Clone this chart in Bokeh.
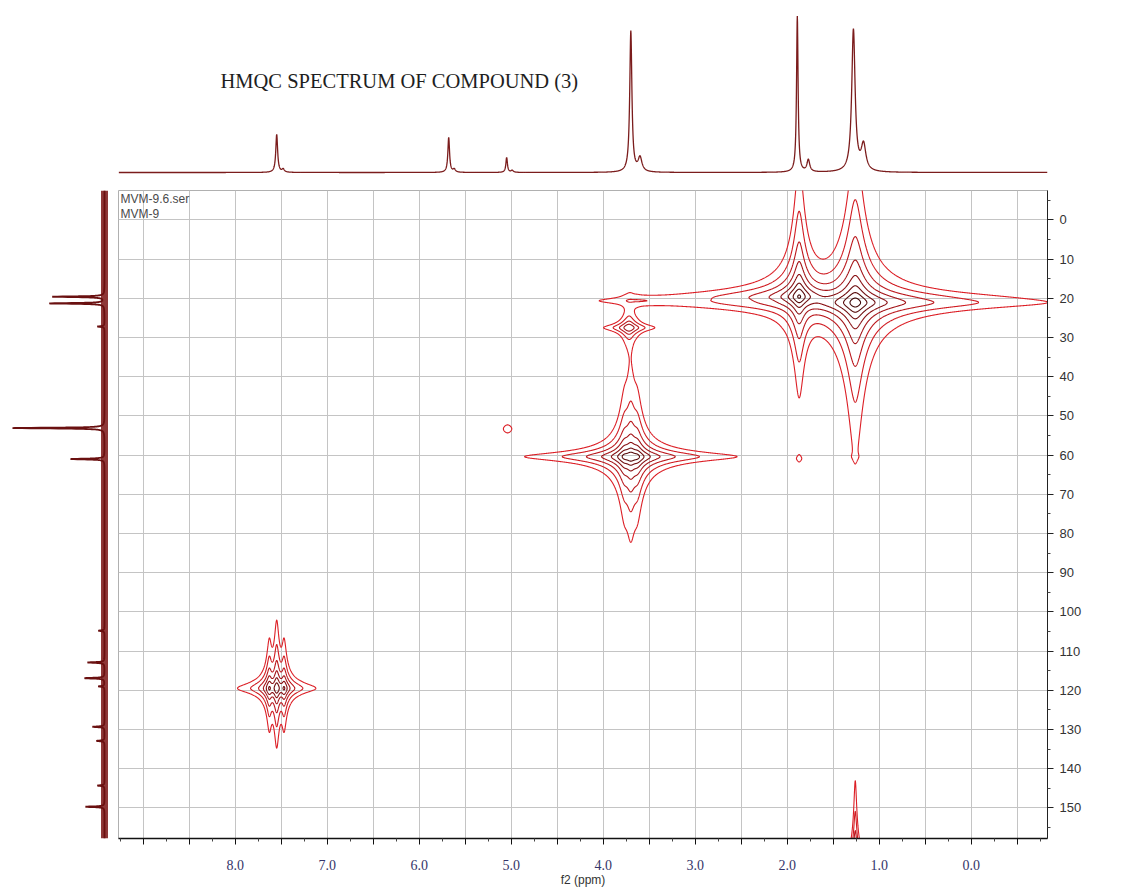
import numpy as np
from bokeh.plotting import figure
from bokeh.layouts import column, row
from bokeh.models import Range1d, FixedTicker, Label
from bokeh.embed import file_html
from bokeh.resources import INLINE

# ---------------- axes ----------------
f2_left, f2_right = 9.27, -0.83          # 1H (ppm), reversed
f1_top, f1_bottom = -7.5, 157.8          # 13C (ppm), reversed

f2_major = [9.0, 8.5, 8.0, 7.5, 7.0, 6.5, 6.0, 5.5, 5.0, 4.5, 4.0, 3.5, 3.0, 2.5, 2.0, 1.5, 1.0, 0.5, 0.0, -0.5]
f2_labels = ["", "", "8.0", "", "7.0", "", "6.0", "", "5.0", "", "4.0", "", "3.0", "", "2.0", "", "1.0", "", "0.0", ""]
f2_minor = [9.25, 8.75, 8.25, 7.75, 7.25, 6.75, 6.25, 5.75, 5.25, 4.75, 4.25, 3.75, 3.25, 2.75,
            2.25, 1.75, 1.25, 0.75, 0.25, -0.25, -0.75]

f1_major = [0, 10, 20, 30, 40, 50, 60, 70, 80, 90, 100, 110, 120, 130, 140, 150]
f1_minor = [-5, 5, 15, 25, 35, 45, 55, 65, 75, 85, 95, 105, 115, 125, 135, 145, 155]

# ---------------- 1H projection (top) ----------------
h_shift = [7.55, 7.48, 5.68, 5.62, 5.05, 4.99, 3.70, 3.60, 1.89, 1.77, 1.28, 1.17]
h_height = [38, 3, 35, 3, 15, 2, 141, 14, 156, 12, 142, 26]
h_hwhm = [0.012, 0.015, 0.011, 0.015, 0.010, 0.015, 0.014, 0.025, 0.010, 0.018, 0.022, 0.030]

# ---------------- 13C projection (left) ----------------
c_shift = [19.6, 21.3, 27.2, 53.1, 61.0, 104.8, 112.9, 116.9, 119.0, 129.3, 132.9, 144.3, 149.7]
c_height = [52, 55, 7, 92, 34, 6, 17, 20, 6, 12, 8, 7, 19]

# ---------------- HMQC cross peaks ----------------
xp_f2 = [7.55, 3.70, 3.72, 5.04, 1.87, 1.26, 1.26, 1.87, 3.60]
xp_f1 = [119.5, 60.4, 27.5, 53.3, 19.6, 21.1, 163.0, 61.0, 20.6]
xp_amp = [300, 600, 30, 1.5, 500, 730, 30, 1.2, 1.5]
xp_w2 = [0.024, 0.047, 0.05, 0.063, 0.05, 0.075, 0.015, 0.02, 0.25]
xp_w1_up = [1.37, 1.1, 0.78, 1.4, 1.5, 1.5, 3.5, 0.6, 0.6]
xp_w1_dn = [1.2, 1.1, 0.78, 1.4, 1.13, 1.45, 3.5, 0.6, 0.6]
xp_mult = [3, 3, 1, 1, 1, 1, 1, 1, 1]
xp_j = [0.08, 0.07, 0.0, 0.0, 0.0, 0.0, 0.0, 0.0, 0.0]

contour_levels = [1, 2.4, 5.8, 13.8, 33, 80, 190, 460]
contour_colors = ["#dc1f26", "#d01c22", "#bb181d", "#a31418", "#881013", "#6e0c0e", "#560909", "#3e0606"]

SPEC_COLOR = "#7b1c1c"

# ---------------- computed spectra ----------------
def lorentz(x, x0, w):
    return 1.0 / (1.0 + ((x - x0) / w) ** 2)

f2_axis = np.arange(f2_right, f2_left, 0.002)
h_int = np.zeros_like(f2_axis)
for s, h, w in zip(h_shift, h_height, h_hwhm):
    h_int += h * lorentz(f2_axis, s, w)

f1_axis = np.arange(f1_top, f1_bottom, 0.02)
c_int = np.zeros_like(f1_axis)
for s, h in zip(c_shift, c_height):
    c_int += h * lorentz(f1_axis, s, 0.12)

# 2D grid, refined around the narrow lines in f2
line_centres = []
for c, m, j in zip(xp_f2, xp_mult, xp_j):
    for k in range(m):
        line_centres.append(c + (k - (m - 1) / 2) * j)
f2_pieces = [np.arange(-0.95, 9.4, 0.005)]
for c in line_centres:
    f2_pieces.append(np.arange(c - 0.1, c + 0.1, 0.0012))
f2_grid = np.unique(np.round(np.concatenate(f2_pieces), 5))
f1_grid = np.arange(-14.0, 165.0, 0.15)

Z = np.zeros((f1_grid.size, f2_grid.size))
for c2, c1, a, w2, wu, wd, m, j in zip(xp_f2, xp_f1, xp_amp, xp_w2, xp_w1_up, xp_w1_dn, xp_mult, xp_j):
    w1 = np.where(f1_grid < c1, wu, wd)
    gy = 1.0 / (1.0 + ((f1_grid - c1) / w1) ** 2)
    weights = np.array([1.0]) if m == 1 else np.array([1.0, 2.0, 1.0])[:m]
    weights = weights / weights.sum()
    gx = np.zeros_like(f2_grid)
    for k in range(m):
        gx += weights[k] * lorentz(f2_grid, c2 + (k - (m - 1) / 2) * j, w2)
    Z += a * np.outer(gy, gx)

# ---------------- figures ----------------
xr = Range1d(f2_left, f2_right)
yr = Range1d(f1_bottom, f1_top)

top = figure(width=1128, height=188, x_range=xr, y_range=Range1d(-16, 172),
             min_border_left=118, min_border_right=81, min_border_top=0, min_border_bottom=0,
             x_axis_location=None, y_axis_location=None, outline_line_color=None,
             output_backend="svg", toolbar_location=None)
top.grid.visible = False
top.line(f2_axis, h_int, line_color=SPEC_COLOR, line_width=1.3)
top.add_layout(Label(x=102, y=108, x_units="screen", y_units="screen",
                     text="HMQC SPECTRUM OF  COMPOUND (3)", text_font="Liberation Serif",
                     text_font_size="20.5px", text_color="#1e1e1e", text_baseline="alphabetic"))

left = figure(width=118, height=702, x_range=Range1d(104, -14), y_range=yr,
              min_border_left=0, min_border_right=0, min_border_top=2, min_border_bottom=52,
              x_axis_location=None, y_axis_location=None, outline_line_color=None,
              output_backend="svg", toolbar_location=None)
left.grid.visible = False
left.harea(x1=[-3.5, -3.5], x2=[3.5, 3.5], y=[f1_top, f1_bottom], fill_color="#7a1414", fill_alpha=0.85)
left.line(c_int, f1_axis, line_color="#6a1010", line_width=1.8)

main = figure(width=1010, height=702, x_range=xr, y_range=yr,
              min_border_left=0, min_border_right=81, min_border_top=2, min_border_bottom=52,
              y_axis_location="right", outline_line_color="#b0b0b0",
              output_backend="svg", toolbar_location=None)

xt = FixedTicker(ticks=f2_major, minor_ticks=f2_minor)
yt = FixedTicker(ticks=f1_major, minor_ticks=f1_minor)
main.xaxis.ticker = xt
main.yaxis.ticker = yt
main.xgrid.ticker = xt
main.ygrid.ticker = yt
main.grid.grid_line_color = "#c4c4c4"
main.grid.grid_line_width = 1

xa = main.xaxis[0]
xa.major_label_overrides = dict(zip(f2_major, f2_labels))
xa.major_label_text_font = "Liberation Serif"
xa.major_label_text_font_size = "14px"
xa.major_label_text_color = "#35356a"
xa.major_label_standoff = 15
xa.major_tick_out = 6
xa.major_tick_in = 0
xa.minor_tick_out = 3
xa.minor_tick_in = 0
xa.axis_line_width = 1.5
xa.axis_line_color = "#111111"
xa.major_tick_line_color = "#111111"
xa.minor_tick_line_color = "#444444"
xa.axis_label = "f2 (ppm)"
xa.axis_label_text_font = "Liberation Sans"
xa.axis_label_text_font_size = "12px"
xa.axis_label_text_font_style = "normal"
xa.axis_label_text_color = "#333333"
xa.axis_label_standoff = 0

ya = main.yaxis[0]
ya.major_label_text_font = "Liberation Sans"
ya.major_label_text_font_size = "13px"
ya.major_label_text_color = "#333333"
ya.major_label_standoff = 6
ya.major_tick_out = 6
ya.major_tick_in = 0
ya.minor_tick_out = 3
ya.minor_tick_in = 0
ya.axis_line_color = "#222222"
ya.major_tick_line_color = "#222222"
ya.minor_tick_line_color = "#444444"

main.contour(x=f2_grid, y=f1_grid, z=Z, levels=contour_levels,
             line_color=contour_colors, line_width=1.1)

main.add_layout(Label(x=2, y=640, x_units="screen", y_units="screen", text="MVM-9.6.ser",
                      text_font="Liberation Sans", text_font_size="12px", text_color="#4a4a4a",
                      text_baseline="middle"))
main.add_layout(Label(x=2, y=625, x_units="screen", y_units="screen", text="MVM-9",
                      text_font="Liberation Sans", text_font_size="12px", text_color="#4a4a4a",
                      text_baseline="middle"))
main.add_layout(Label(x=1000, y=335, x_units="screen", y_units="screen", text="f1 (ppm)",
                      angle=np.pi / 2, text_align="center", text_baseline="middle",
                      text_font="Liberation Sans", text_font_size="12px", text_color="#333333"))

layout = column(top, row(left, main))
open("out.html", "w").write(file_html(layout, INLINE))
